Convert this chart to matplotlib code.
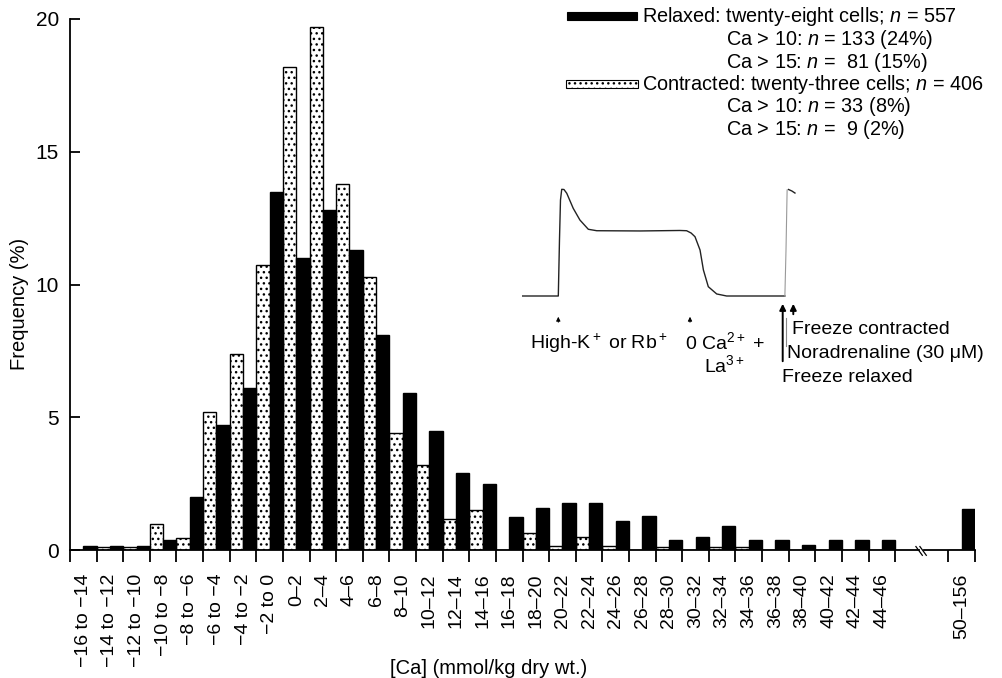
import matplotlib
matplotlib.use('Agg')
import matplotlib.pyplot as plt
from matplotlib.patches import Rectangle
import numpy as np

plt.rcParams['font.family'] = ['Liberation Sans', 'DejaVu Sans']
plt.rcParams['mathtext.fontset'] = 'custom'
plt.rcParams['mathtext.rm'] = 'Liberation Sans'
plt.rcParams['mathtext.it'] = 'Liberation Sans:italic'
plt.rcParams['mathtext.bf'] = 'Liberation Sans:bold'
plt.rcParams['hatch.linewidth'] = 1.0

# ---------------- data ----------------
categories = ["−16 to −14", "−14 to −12", "−12 to −10", "−10 to −8", "−8 to −6",
              "−6 to −4", "−4 to −2", "−2 to 0", "0–2", "2–4", "4–6", "6–8",
              "8–10", "10–12", "12–14", "14–16", "16–18", "18–20", "20–22",
              "22–24", "24–26", "26–28", "28–30", "30–32", "32–34", "34–36",
              "36–38", "38–40", "40–42", "42–44", "44–46", "50–156"]
contracted = [0.0, 0.12, 0.12, 0.98, 0.47, 5.2, 7.4, 10.75, 18.2, 19.7, 13.8, 10.3,
              4.4, 3.2, 1.15, 1.5, 0.0, 0.65, 0.15, 0.5, 0.15, 0.0, 0.12, 0.0,
              0.12, 0.12, 0.0, 0.0, 0.0, 0.0, 0.0, 0.0]
relaxed = [0.15, 0.15, 0.15, 0.37, 2.0, 4.7, 6.1, 13.5, 11.0, 12.8, 11.3, 8.1,
           5.9, 4.5, 2.9, 2.5, 1.25, 1.6, 1.78, 1.78, 1.1, 1.28, 0.37, 0.5,
           0.9, 0.37, 0.37, 0.17, 0.37, 0.37, 0.38, 1.55]
# category slot on the axis (two empty slots at the axis break)
slots = list(range(31)) + [33]
yticks = [0, 5, 10, 15, 20]

legend_lines = [
    ("Relaxed: twenty-eight cells; $n$ = 557", 0),
    ("Ca > 10: $n$ = 133 (24%)", 1),
    ("Ca > 15: $n$ =  81 (15%)", 1),
    ("Contracted: twenty-three cells; $n$ = 406", 0),
    ("Ca > 10: $n$ = 33 (8%)", 1),
    ("Ca > 15: $n$ =  9 (2%)", 1),
]

# inset tension trace (arbitrary time / tension units)
trace_t = [0.96, 13.68, 14.1, 14.46, 14.9, 15.7, 16.7, 19.0, 21.4, 24.4, 27.4,
           42.9, 57.1, 59.5, 61.1, 62.5, 64.3, 65.5, 67.25, 70.25, 73.8, 94.6]
trace_v = [0, 0, 46.7, 80, 88.9, 88.75, 85.6, 73.1, 63.3, 55.6, 54.4,
           54.2, 54.6, 54.4, 52.5, 49.4, 38.3, 21.7, 7.75, 1.7, 0, 0]
rise_t = [94.6, 95.0, 95.4]
rise_v = [0, 38.3, 88.3]
tail_t = [95.9, 97.1, 98.2]
tail_v = [88.75, 87.5, 85.8]

# ---------------- figure ----------------
W, H = 1002, 678
fig = plt.figure(figsize=(W / 100, H / 100), dpi=100)
ax = fig.add_axes([70 / W, (H - 550) / H, 905 / W, 531 / H])

pos = np.array(slots, dtype=float)
ax.bar(pos, contracted, width=0.5, align='edge', facecolor='white',
       edgecolor='black', hatch='...', linewidth=1.0, zorder=2)
ax.bar(pos + 0.5, relaxed, width=0.5, align='edge', facecolor='black',
       edgecolor='black', linewidth=1.0, zorder=2)

ax.set_xlim(0, 34)
ax.set_ylim(0, 20)
for s in ['top', 'right', 'bottom']:
    ax.spines[s].set_visible(False)
ax.spines['left'].set_linewidth(1.3)

ax.set_yticks(yticks)
ax.tick_params(axis='y', direction='in', length=7.5, width=1.3, labelsize=15, pad=8)

bounds = list(range(32)) + [33, 34]
ax.set_xticks(bounds)
ax.set_xticklabels([''] * len(bounds))
ax.tick_params(axis='x', which='major', direction='out', length=8.5, width=1.3)
ax.set_xticks(pos + 0.5, labels=categories, minor=True, rotation=90)
ax.tick_params(axis='x', which='minor', length=0, pad=17, labelsize=14)

# bottom axis line with a break
ax.plot([0, 31.9], [0, 0], color='black', lw=1.3, clip_on=False, zorder=3)
ax.plot([32.1, 34], [0, 0], color='black', lw=1.3, clip_on=False, zorder=3)
for dx in (0.0, 0.15):
    ax.plot([31.78 + dx, 32.02 + dx], [0.13, -0.2], color='black', lw=0.9,
            clip_on=False, zorder=3)

ax.set_ylabel('Frequency (%)', fontsize=14.5)
ax.yaxis.set_label_coords((20 - 70) / 905, (550 - 304) / 531)
ax.yaxis.label.set_va('center')
ax.set_xlabel('[Ca] (mmol/kg dry wt.)', fontsize=14.5)
ax.xaxis.set_label_coords((489 - 70) / 905, (550 - 668) / 531)
ax.xaxis.label.set_va('center')

# ---------------- inset trace ----------------
axi = fig.add_axes([520 / W, (H - 296) / H, 280 / W, 120 / H])
axi.set_xlim(0, 100)
axi.set_ylim(0, 100)
axi.axis('off')
axi.plot(trace_t, trace_v, color='#222222', lw=1.0, clip_on=False)
axi.plot(rise_t, rise_v, color='#999999', lw=0.8, clip_on=False)
axi.plot(tail_t, tail_v, color='#222222', lw=1.0, clip_on=False)

# ---------------- overlay (legend + inset annotations), pixel coords -------
ov = fig.add_axes([0, 0, 1, 1])
ov.set_xlim(0, W)
ov.set_ylim(H, 0)
ov.axis('off')

line_y = [17, 39.5, 62, 84.5, 107, 129.5]
ov.add_patch(Rectangle((567, 12.3), 70.5, 7.7, facecolor='black',
                       edgecolor='black', lw=0.8))
ov.add_patch(Rectangle((566, 80.3), 72, 7.6, facecolor='white',
                       edgecolor='black', hatch='...', lw=0.8))
for (txt, indent), yy in zip(legend_lines, line_y):
    ov.text(641.7 if indent == 0 else 725.7, yy, txt, ha='left', va='center',
            fontsize=14.3)

arrow_small = dict(arrowstyle='-|>', lw=0.7, color='black', mutation_scale=6)
ov.annotate('', xy=(558.3, 314), xytext=(558.3, 325), arrowprops=arrow_small)
ov.annotate('', xy=(690, 314), xytext=(690, 325), arrowprops=arrow_small)
arrow_big = dict(arrowstyle='-|>', lw=1.4, color='black', mutation_scale=9)
ov.annotate('', xy=(782.7, 301), xytext=(782.7, 364), arrowprops=arrow_big)
ov.annotate('', xy=(793.3, 301), xytext=(793.3, 317), arrowprops=arrow_big)
ov.plot([785.8, 785.8], [318, 346], color='#888888', lw=0.8)

ov.text(530, 343, 'High-K$^+$ or Rb$^+$', ha='left', va='center', fontsize=14)
ov.text(685, 342, '0 Ca$^{2+}$ +', ha='left', va='center', fontsize=14)
ov.text(704, 365, 'La$^{3+}$', ha='left', va='center', fontsize=14)
ov.text(791.7, 330, 'Freeze contracted', ha='left', va='center', fontsize=14)
ov.text(787, 354, 'Noradrenaline (30 μM)', ha='left', va='center', fontsize=14)
ov.text(781.7, 378, 'Freeze relaxed', ha='left', va='center', fontsize=14)

fig.savefig('out.png', dpi=100)
